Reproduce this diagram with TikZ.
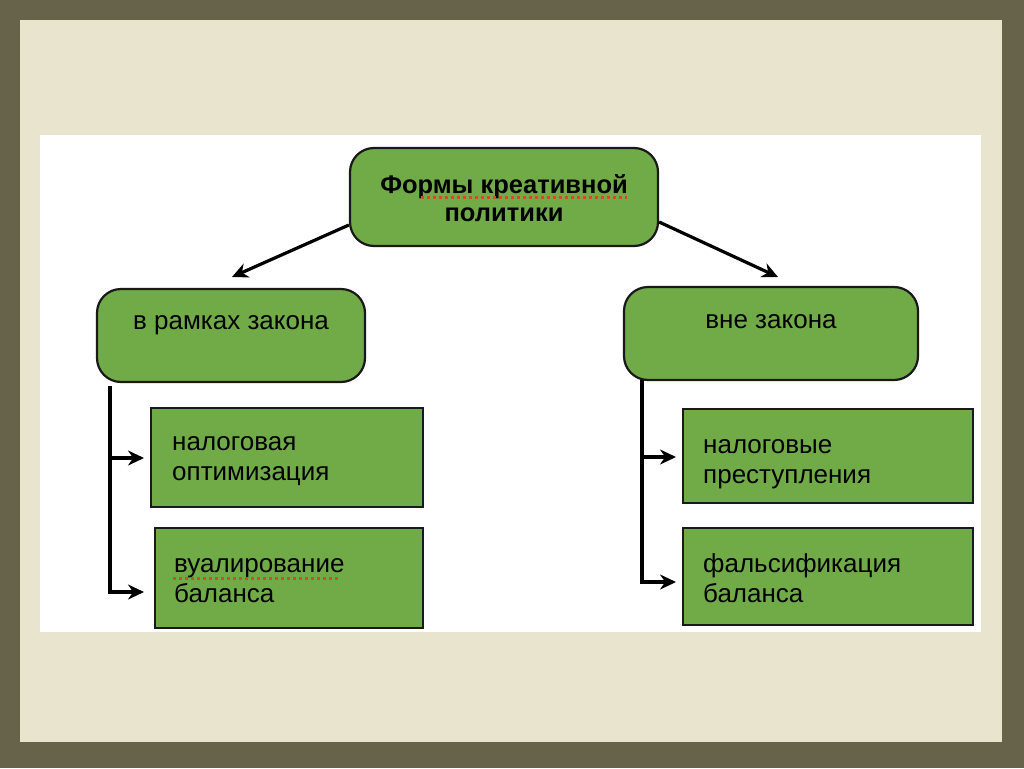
\documentclass[tikz,border=0pt]{standalone}
\usepackage{fontspec}
\setmainfont{Liberation Sans}
\usetikzlibrary{arrows.meta}
\definecolor{bgolive}{HTML}{66634A}
\definecolor{paper}{HTML}{E8E4CE}
\definecolor{boxgreen}{HTML}{70AB48}
\definecolor{spellred}{HTML}{E0452A}
\begin{document}
\begin{tikzpicture}[x=1pt,y=-1pt,
 rbox/.style={draw=black!90, line width=2.2pt, fill=boxgreen, rounded corners=24pt, inner sep=0pt},
 sbox/.style={draw=black!90, line width=2.2pt, fill=boxgreen, inner sep=0pt},
 lbl/.style={font=\fontsize{26}{30}\selectfont, align=left, anchor=west, inner sep=0pt},
 clbl/.style={font=\fontsize{26}{30}\selectfont, align=center, inner sep=0pt},
 conn/.style={line width=3.2pt, -{Stealth[length=16pt,width=15pt]}},
 spell/.style={spellred, line width=3pt, dash pattern=on 3pt off 3pt}]
\useasboundingbox (0,0) rectangle (1024,768);
\fill[bgolive] (0,0) rectangle (1024,768);
\fill[paper] (20,20) rectangle (1002,742);
\fill[white] (40,135) rectangle (981,632);

% boxes
\node[rbox, minimum width=308pt, minimum height=98pt] (top) at (504,197) {};
\node[rbox, minimum width=268pt, minimum height=93pt] (left) at (231,335.5) {};
\node[rbox, minimum width=294pt, minimum height=93pt] (right) at (771,333.5) {};
\node[sbox, minimum width=272pt, minimum height=99pt] (lb1) at (287,457.5) {};
\node[sbox, minimum width=268pt, minimum height=100pt] (lb2) at (289,578) {};
\node[sbox, minimum width=290pt, minimum height=94pt] (rb1) at (828,456) {};
\node[sbox, minimum width=290pt, minimum height=97pt] (rb2) at (828,576.5) {};

% texts
\node[clbl, font=\fontsize{25.5}{28}\selectfont\bfseries] (ttop) at (504,198) {Формы креативной\\политики};
\node[clbl] (tleft) at (231,325) {в рамках закона};
\node[clbl] (tright) at (771,322) {вне закона};
\node[lbl] (tlb1) at (172,461) {налоговая\\оптимизация};
\node[lbl] (tlb2) at (174,581) {вуалирование\\баланса};
\node[lbl] (trb1) at (703,464) {налоговые\\преступления};
\node[lbl] (trb2) at (703,578) {фальсификация\\баланса};

% spell-check underlines
\coordinate (s1a) at (421,197); \coordinate (s1b) at (627,197);
\draw[spell] (s1a) -- (s1b);
\coordinate (s2a) at (173,578); \coordinate (s2b) at (340,578);
\draw[spell] (s2a) -- (s2b);

% top arrows
\coordinate (al) at (232,277);
\coordinate (ar) at (778,277);
\draw[conn] ([yshift=-28pt]top.west) -- (al);
\draw[conn] ([yshift=-25pt]top.east) -- (ar);

% left tree
\coordinate (lt) at (110,386);
\coordinate (l1) at (144,458);
\coordinate (l2) at (144,592);
\draw[conn] (lt) |- (l2);
\draw[conn] (lt |- l1) -- (l1);

% right tree
\coordinate (rt) at (642,380);
\coordinate (r1) at (676,457);
\coordinate (r2) at (676,582);
\draw[conn] (rt) |- (r2);
\draw[conn] (rt |- r1) -- (r1);
\end{tikzpicture}
\end{document}
